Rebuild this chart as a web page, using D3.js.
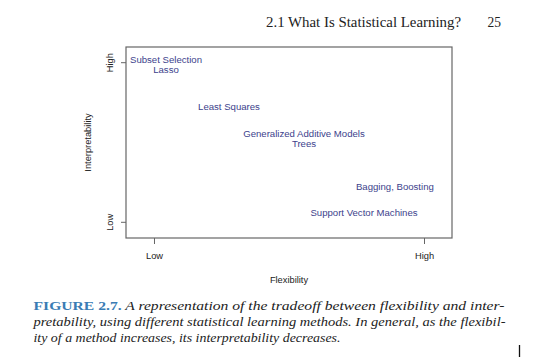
<!DOCTYPE html>
<html><head><meta charset="utf-8">
<script src="https://cdn.jsdelivr.net/npm/d3@7"></script>
<style>body{margin:0;background:#fff}svg{display:block}</style>
</head><body>
<svg id="c" width="540" height="361"></svg>
<script>
// ---- data ----
const methods = ["Subset Selection","Lasso","Least Squares","Generalized Additive Models","Trees","Bagging, Boosting","Support Vector Machines"];
const flexibility = [1.4, 1.4, 3.5, 6.0, 6.0, 9.03, 8.0];
const interpretability = [10.18, 9.62, 7.53, 6.0, 5.44, 2.99, 1.55];
const xTickValues = [1, 10];
const xTickLabels = ["Low","High"];
const yTickValues = [1, 10];
const yTickLabels = ["Low","High"];
const header = "2.1 What Is Statistical Learning?";
const pageNo = "25";
const captionLines = [
  ["FIGURE 2.7.", " A representation of the tradeoff between flexibility and inter-"],
  ["", "pretability, using different statistical learning methods. In general, as the flexibil-"],
  ["", "ity of a method increases, its interpretability decreases."]
];

const svg = d3.select("#c");
const L=126, R=452, T=47, B=238;
const x = d3.scaleLinear().domain([0.0667, 10.9333]).range([L, R]);
const y = d3.scaleLinear().domain([0.115, 10.885]).range([B, T]);

const serif = "Liberation Serif, DejaVu Serif, serif";
// header
svg.append("text").attr("x",266).attr("y",26.5).attr("font-family",serif).attr("font-size",14)
  .attr("textLength",195).attr("lengthAdjust","spacingAndGlyphs").attr("fill","#222").text(header);
svg.append("text").attr("x",487.5).attr("y",26.5).attr("font-family",serif).attr("font-size",14)
  .attr("textLength",13.5).attr("lengthAdjust","spacingAndGlyphs").attr("fill","#222").text(pageNo);

// box
svg.append("rect").attr("x",L).attr("y",T).attr("width",R-L).attr("height",B-T)
  .attr("fill","none").attr("stroke","#666").attr("stroke-width",1.2);

const font = "Liberation Sans, Arial, sans-serif";
// x axis
const xa = svg.append("g").attr("transform",`translate(0,${B})`)
  .call(d3.axisBottom(x).tickValues(xTickValues).tickFormat((d,i)=>xTickLabels[i]).tickSize(6).tickPadding(8));
xa.select(".domain").remove();
xa.selectAll("line").attr("stroke","#666");
xa.selectAll("text").attr("font-family",font).attr("font-size",9.3).attr("fill","#222");
// y axis
const ya = svg.append("g").attr("transform",`translate(${L},0)`)
  .call(d3.axisLeft(y).tickValues(yTickValues).tickFormat((d,i)=>yTickLabels[i]).tickSize(5));
ya.select(".domain").remove();
ya.selectAll("line").attr("stroke","#666");
ya.selectAll(".tick").attr("transform",null);
ya.selectAll(".tick line").attr("y1",d=>y(d)).attr("y2",d=>y(d));
ya.selectAll("text").attr("font-family",font).attr("font-size",9.3).attr("fill","#222")
  .attr("text-anchor","middle").attr("x",0).attr("y",0).attr("dy",0)
  .attr("transform",d=>`translate(-13,${y(d)}) rotate(-90)`);

// axis titles
svg.append("text").attr("x",(L+R)/2).attr("y",282.5).attr("text-anchor","middle")
  .attr("font-family",font).attr("font-size",9.3).attr("fill","#222").text("Flexibility");
svg.append("text").attr("transform",`translate(91,${(T+B)/2}) rotate(-90)`).attr("text-anchor","middle")
  .attr("font-family",font).attr("font-size",9.3).attr("fill","#222").text("Interpretability");

// method labels
svg.append("g").selectAll("text").data(methods).join("text")
  .attr("x",(d,i)=>x(flexibility[i])).attr("y",(d,i)=>y(interpretability[i]))
  .attr("dy","0.36em").attr("text-anchor","middle")
  .attr("font-family",font).attr("font-size",9.6).attr("fill","#3d3f8c").text(d=>d);

// caption
const widths=[471,472,307];
const bases=[309.5,326,342];
captionLines.forEach((ln,i)=>{
  const t=svg.append("text").attr("x",33.5).attr("y",bases[i]).attr("font-family",serif).attr("font-size",12.5).attr("fill","#222")
    .attr("textLength",widths[i]).attr("lengthAdjust","spacingAndGlyphs");
  if(ln[0]) t.append("tspan").attr("font-weight","bold").attr("fill","#3a7cb4").text(ln[0]);
  t.append("tspan").attr("font-style","italic").text(ln[1]);
});
// cursor mark
svg.append("line").attr("x1",519.5).attr("x2",519.5).attr("y1",345).attr("y2",357).attr("stroke","#111").attr("stroke-width",1.3);
</script>
</body></html>
